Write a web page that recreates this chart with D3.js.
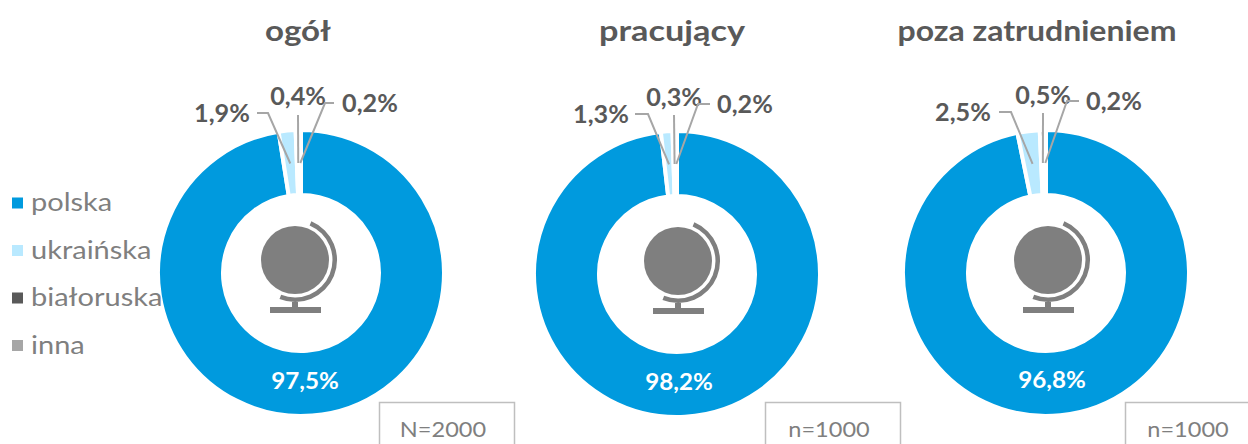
<!DOCTYPE html>
<html>
<head>
<meta charset="utf-8">
<script src="https://cdn.jsdelivr.net/npm/d3@7"></script>
<style>
    html, body { margin: 0; padding: 0; background: #fff; overflow: hidden; }
    text { font-family: Lato, "Open Sans", sans-serif; }
</style>
</head>
<body>
<div id="chart"></div>
<script>
var categories = ['polska', 'ukraińska', 'białoruska', 'inna'];
var colors = ['#009ADE', '#B9E9FF', '#595959', '#A6A6A6'];
var titles = ['ogół', 'pracujący', 'poza zatrudnieniem'];
var sampleLabels = ['N=2000', 'n=1000', 'n=1000'];
var valuesOgol = [97.5, 1.9, 0.4, 0.2];
var valuesPracujacy = [98.2, 1.3, 0.3, 0.2];
var valuesPoza = [96.8, 2.5, 0.5, 0.2];
var allValues = [valuesOgol, valuesPracujacy, valuesPoza];

// where each donut and its furniture sits on the page
var layouts = [
    {
        cx: 301, cy: 273, titleX: 298, titleW: 66, mainDx: 4, mainDy: 108,
        globeDx: -6, globeDy: -13,
        box: [379, 514], sampleX: 443,
        small: [
            {y: -159, elbowX: -33, elbowY: -160, endX: -44, tx: -79},
            {y: -176, elbowX: -3, elbowY: -158, endX: -3, tx: -3},
            {y: -169, elbowX: 24, elbowY: -170, endX: 33, tx: 69}
        ]
    },
    {
        cx: 677, cy: 274, titleX: 672, titleW: 146, mainDx: 2, mainDy: 108,
        globeDx: 1, globeDy: -13,
        box: [765, 900], sampleX: 829,
        small: [
            {y: -159, elbowX: -29, elbowY: -160, endX: -42, tx: -76},
            {y: -176, elbowX: -3, elbowY: -159, endX: -3, tx: -3},
            {y: -169, elbowX: 21, elbowY: -170, endX: 33, tx: 68}
        ]
    },
    {
        cx: 1046, cy: 273, titleX: 1037, titleW: 279, mainDx: 6, mainDy: 107,
        globeDx: 2, globeDy: -13,
        box: [1125, 1260], sampleX: 1188,
        small: [
            {y: -160, elbowX: -35, elbowY: -161, endX: -47, tx: -83},
            {y: -177, elbowX: -3, elbowY: -160, endX: -3, tx: -3},
            {y: -171, elbowX: 21, elbowY: -172, endX: 33, tx: 68}
        ]
    }
];

var width = 1248, height = 444;
var outerR = 143, innerR = 78, leaderR = 110;
var percent = function (v) { return v.toFixed(1).replace('.', ',') + '%'; };

// the original face is wider than anything installed, so stretch the glyphs
function widen(sel, factor) {
    sel.each(function () {
        var w = this.getComputedTextLength() * factor;
        d3.select(this)
            .attr('textLength', w)
            .attr('lengthAdjust', 'spacingAndGlyphs');
    });
}

var svg = d3.select('#chart').append('svg')
    .attr('width', width)
    .attr('height', height);

var pie = d3.pie().sort(null).value(function (d) { return d; });
var arc = d3.arc().innerRadius(innerR).outerRadius(outerR);
var leaderArc = d3.arc().innerRadius(leaderR).outerRadius(leaderR);

function drawGlobe(g, dx, dy) {
    var globe = g.append('g').attr('transform', 'translate(' + dx + ',' + dy + ')');
    globe.append('circle')
        .attr('r', 34)
        .attr('fill', '#7F7F7F');
    globe.append('path')
        .attr('d', d3.arc()({
            innerRadius: 37.5,
            outerRadius: 42,
            startAngle: 0.4,
            endAngle: 3.52
        }))
        .attr('fill', '#7F7F7F');
    globe.append('rect')
        .attr('x', -3).attr('y', 42)
        .attr('width', 6).attr('height', 6)
        .attr('fill', '#7F7F7F');
    globe.append('rect')
        .attr('x', -25).attr('y', 47)
        .attr('width', 51).attr('height', 6)
        .attr('fill', '#7F7F7F');
}

allValues.forEach(function (values, i) {
    var l = layouts[i];
    var g = svg.append('g').attr('transform', 'translate(' + l.cx + ',' + l.cy + ')');
    var slices = pie(values);

    svg.append('text')
        .attr('x', l.titleX)
        .attr('y', 41)
        .attr('text-anchor', 'middle')
        .attr('font-size', 28)
        .attr('font-weight', 'bold')
        .attr('fill', '#595959')
        .attr('textLength', l.titleW)
        .attr('lengthAdjust', 'spacingAndGlyphs')
        .text(titles[i]);

    g.selectAll('path.slice').data(slices).enter().append('path')
        .attr('class', 'slice')
        .attr('d', arc)
        .attr('fill', function (d, j) { return colors[j]; })
        .attr('stroke', '#fff')
        .attr('stroke-width', 4);

    drawGlobe(g, l.globeDx, l.globeDy);

    g.append('text')
        .attr('x', l.mainDx)
        .attr('y', l.mainDy + 8)
        .attr('text-anchor', 'middle')
        .attr('font-size', 22)
        .attr('font-weight', 'bold')
        .attr('fill', '#fff')
        .text(percent(values[0]))
        .call(widen, 1.1);

    // leader lines for the three thin slices
    slices.slice(1).forEach(function (d, j) {
        var s = l.small[j];
        var tip = leaderArc.centroid(d);
        g.append('polyline')
            .attr('points', [[s.endX, s.elbowY], [s.elbowX, s.elbowY], tip].join(' '))
            .attr('fill', 'none')
            .attr('stroke', '#A6A6A6')
            .attr('stroke-width', 2);
        g.append('text')
            .attr('x', s.tx)
            .attr('y', s.y + 8)
            .attr('text-anchor', 'middle')
            .attr('font-size', 24)
            .attr('font-weight', 'bold')
            .attr('fill', '#595959')
            .text(percent(values[j + 1]))
            .call(widen, 1.05);
    });

    svg.append('rect')
        .attr('x', l.box[0] + 0.5)
        .attr('y', 402.5)
        .attr('width', l.box[1] - l.box[0])
        .attr('height', 60)
        .attr('fill', '#fff')
        .attr('stroke', '#BFBFBF')
        .attr('stroke-width', 1.5);
    svg.append('text')
        .attr('x', l.sampleX)
        .attr('y', 437)
        .attr('text-anchor', 'middle')
        .attr('font-size', 22)
        .attr('fill', '#7F7F7F')
        .text(sampleLabels[i])
        .call(widen, 1.07);
});

var legend = svg.selectAll('g.legend').data(categories).enter().append('g')
    .attr('class', 'legend')
    .attr('transform', function (d, i) { return 'translate(12,' + (203 + i * 47.5) + ')'; });
legend.append('rect')
    .attr('y', -5.5)
    .attr('width', 11)
    .attr('height', 11)
    .attr('fill', function (d, i) { return colors[i]; });
legend.append('text')
    .attr('x', 19)
    .attr('y', 8)
    .attr('font-size', 25)
    .attr('fill', '#7F7F7F')
    .text(function (d) { return d; })
    .call(widen, 1.16);
</script>
</body>
</html>
